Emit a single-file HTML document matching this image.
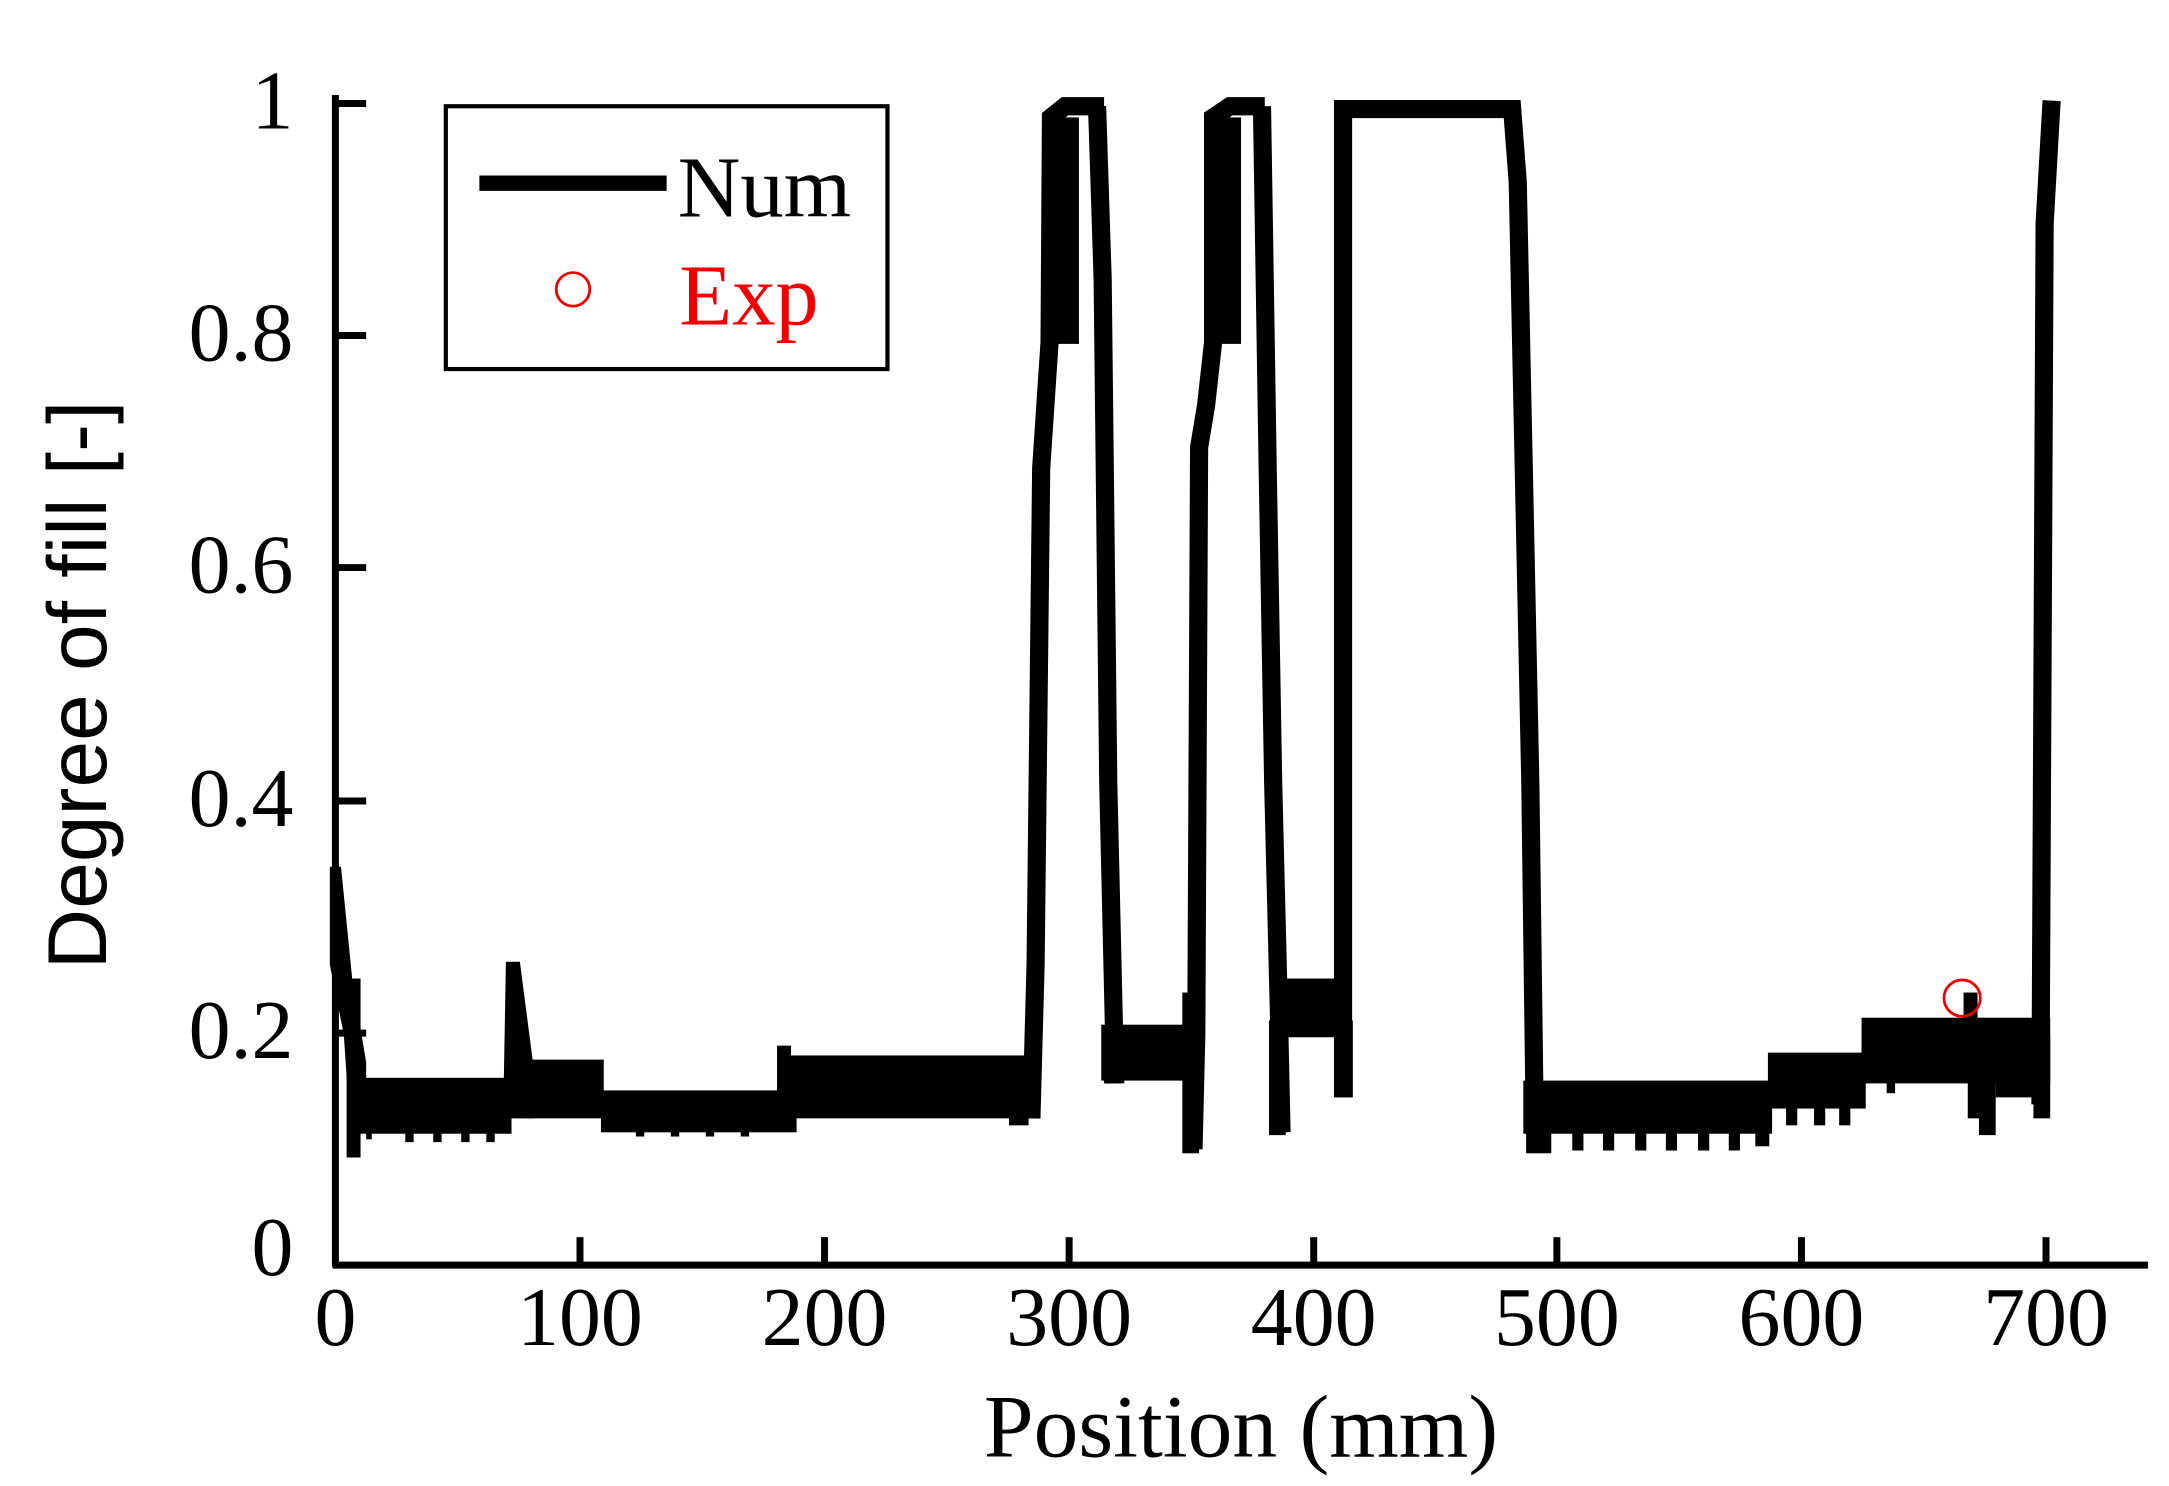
<!DOCTYPE html>
<html><head><meta charset="utf-8"><style>
html,body{margin:0;padding:0;background:#fff}
svg{display:block}
</style></head><body>
<svg width="2169" height="1486" viewBox="0 0 1552 1063" preserveAspectRatio="none" xmlns="http://www.w3.org/2000/svg">
<rect width="1552" height="1063" fill="#fff"/>
<g fill="#000" stroke="none">
<polygon points="236,620 244,620 252,700 262,760 262,800 250,800 246,740 236,690"/>
<rect x="248" y="700" width="10" height="128"/>
<rect x="256" y="771" width="110" height="40"/>
<rect x="262" y="805" width="4" height="10"/><rect x="290" y="805" width="6" height="12"/><rect x="310" y="805" width="6" height="12"/><rect x="330" y="805" width="6" height="12"/><rect x="348" y="805" width="6" height="12"/>
<polygon points="360,800 362,688 372,688 382,765 382,800"/>
<rect x="370" y="758" width="62" height="42"/>
<rect x="430" y="780" width="140" height="30"/>
<rect x="455" y="805" width="6" height="8"/><rect x="480" y="805" width="6" height="8"/><rect x="505" y="805" width="6" height="8"/><rect x="530" y="805" width="6" height="8"/>
<rect x="556" y="748" width="10" height="55"/>
<rect x="562" y="755" width="180" height="45"/>
<rect x="722" y="790" width="14" height="15"/>
<!-- peak 1 -->
<rect x="752" y="84" width="20" height="162"/>
<rect x="788" y="733" width="64" height="40"/>
<rect x="790" y="760" width="14" height="15"/>
<rect x="846" y="710" width="12" height="115"/>
<!-- peak 2 -->
<rect x="866" y="84" width="22" height="162"/>
<rect x="910" y="700" width="55" height="42"/>
<rect x="908" y="730" width="12" height="82"/>
<rect x="956" y="730" width="12" height="55"/>
<rect x="1090" y="773" width="178" height="38"/>
<rect x="1092" y="790" width="18" height="35"/>
<rect x="1125" y="805" width="8" height="18"/><rect x="1147" y="805" width="8" height="18"/><rect x="1170" y="805" width="8" height="18"/><rect x="1192" y="805" width="8" height="18"/><rect x="1215" y="805" width="8" height="18"/><rect x="1237" y="805" width="8" height="18"/><rect x="1256" y="800" width="10" height="20"/>
<rect x="1265" y="753" width="70" height="40"/>
<rect x="1278" y="785" width="8" height="20"/><rect x="1298" y="785" width="8" height="20"/><rect x="1316" y="785" width="8" height="20"/>
<rect x="1332" y="728" width="135" height="47"/>
<rect x="1350" y="770" width="6" height="12"/>
<rect x="1405" y="710" width="10" height="25"/>
<rect x="1408" y="760" width="10" height="40"/>
<rect x="1416" y="770" width="12" height="42"/>
<rect x="1428" y="770" width="30" height="15"/>
<rect x="1455" y="740" width="12" height="60"/>
</g>
<g stroke="#000" stroke-width="13" fill="none" stroke-linejoin="miter">
<polyline points="738,800 741,690 745,335 751,245 752,84 762,76 790,76"/>
<polyline points="785,76 789,200 793,560 798,775"/>
<polyline points="854,822 856,740 858,320 863,290 868,245 868,84 880,76 905,76"/>
<polyline points="903,76 907,330 911,560 915,720 917,810"/>
<polyline points="961,785 961,78 1082,78 1086,130 1090,320 1095,560 1098,790"/>
<polyline points="1460,790 1463,160 1468,72"/>
</g>
<g stroke="#000" stroke-width="5" fill="none">
<line x1="240" y1="68" x2="240" y2="906"/>
<line x1="238" y1="905" x2="1537" y2="905"/>
<line x1="240" y1="74" x2="262" y2="74"/><line x1="240" y1="240" x2="262" y2="240"/><line x1="240" y1="406" x2="262" y2="406"/><line x1="240" y1="573" x2="262" y2="573"/><line x1="240" y1="739" x2="262" y2="739"/>
<line x1="415" y1="905" x2="415" y2="885"/><line x1="590" y1="905" x2="590" y2="885"/><line x1="765" y1="905" x2="765" y2="885"/><line x1="940" y1="905" x2="940" y2="885"/><line x1="1114" y1="905" x2="1114" y2="885"/><line x1="1289" y1="905" x2="1289" y2="885"/><line x1="1464" y1="905" x2="1464" y2="885"/>
</g>
<g font-family="Liberation Serif, serif" font-size="60" fill="#000">
<g text-anchor="end">
<text x="210" y="92">1</text><text x="210" y="258">0.8</text><text x="210" y="424">0.6</text><text x="210" y="591">0.4</text><text x="210" y="757">0.2</text><text x="210" y="912">0</text>
</g>
<g text-anchor="middle">
<text x="240" y="962">0</text><text x="415" y="962">100</text><text x="590" y="962">200</text><text x="765" y="962">300</text><text x="940" y="962">400</text><text x="1114" y="962">500</text><text x="1289" y="962">600</text><text x="1464" y="962">700</text>
<text x="888" y="1042" font-size="64">Position (mm)</text>
</g>
</g>
<text transform="translate(76,490) rotate(-90)" text-anchor="middle" font-family="Liberation Sans, sans-serif" font-size="60" fill="#000">Degree of fill [-]</text>
<rect x="319" y="76" width="316" height="188" fill="#fff" stroke="#000" stroke-width="3"/>
<line x1="343" y1="131" x2="477" y2="131" stroke="#000" stroke-width="11"/>
<text x="485" y="155" font-family="Liberation Serif, serif" font-size="62" fill="#000">Num</text>
<circle cx="410" cy="207" r="12" fill="none" stroke="#e00" stroke-width="2"/>
<text x="486" y="232" font-family="Liberation Serif, serif" font-size="62" fill="#e00">Exp</text>
<circle cx="1404" cy="714" r="13" fill="none" stroke="#e00" stroke-width="2"/>
</svg>
</body></html>
